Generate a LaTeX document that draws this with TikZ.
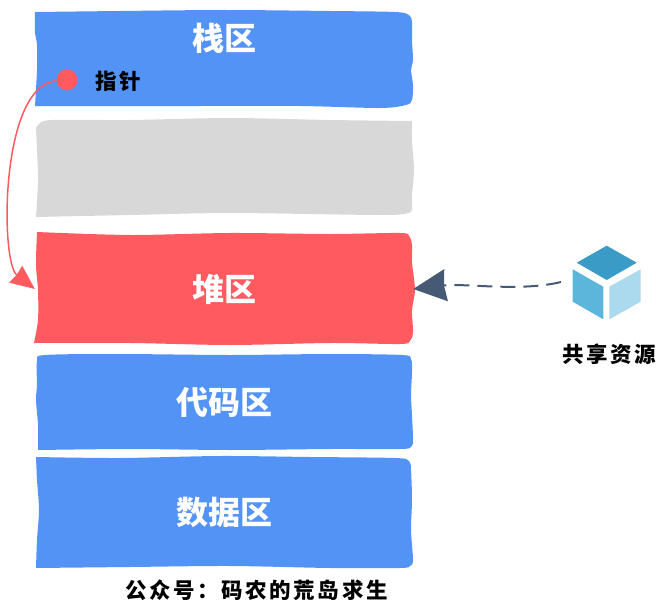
\documentclass[tikz,border=0pt]{standalone}
\usepackage{fontspec}
\newfontfamily\cjk{Noto Sans CJK SC}
\usetikzlibrary{arrows.meta}
\definecolor{segblue}{HTML}{5393F5}
\definecolor{seggray}{HTML}{D8D8D8}
\definecolor{segred}{HTML}{FF5A5F}
\definecolor{inkslate}{HTML}{475A75}
\definecolor{cubetop}{HTML}{3A9BC7}
\definecolor{cubeleft}{HTML}{5CB6DB}
\definecolor{cuberight}{HTML}{ABD9ED}
\tikzset{
  seglabel/.style={text=white,font=\cjk\bfseries\fontsize{32}{32}\selectfont,inner sep=0pt},
  smalllabel/.style={text=black,font=\cjk\bfseries\fontsize{21.5}{22}\selectfont\addfontfeature{LetterSpace=12},inner sep=0pt},
  seghot/.style={minimum width=378pt,minimum height=110pt,inner sep=0pt},
}
\begin{document}
\begin{tikzpicture}[x=1pt,y=-1pt]
  \useasboundingbox (0,0) rectangle (656,610);
  % stack
  \fill[segblue] plot[smooth,tension=0.5] coordinates {(35,12) (120,11) (225,10) (330,11) (395,12) (409,15) (412,22) (412,40) (413,60) (411,70) (413,85) (412,100) (406,105) (380,108) (300,106) (200,106) (35,106)}
    -- plot[smooth,tension=0.5] coordinates {(35,106) (37,70) (37,45) (35,32) (35,12)} -- cycle;
  % free gap
  \fill[seggray] plot[smooth,tension=0.5] coordinates {(36,128) (39,124) (52,120) (130,120) (230,118) (330,120) (412,121)}
    -- plot[smooth,tension=0.5] coordinates {(412,121) (412,140) (414,170) (412,195) (412,208) (408,213) (380,215) (230,213) (130,215) (36,217)}
    -- plot[smooth,tension=0.5] coordinates {(36,217) (38,180) (37,150) (36,128)} -- cycle;
  % heap
  \fill[segred] plot[smooth,tension=0.5] coordinates {(37,232) (130,235) (230,233) (330,234) (400,233) (409,236) (412,245) (412,262) (415,290) (412,310) (413,332) (410,341) (400,344) (330,343) (230,345) (130,343) (34,343)}
    -- plot[smooth,tension=0.5] coordinates {(34,343) (38,320) (38,290) (36,265) (37,232)} -- cycle;
  % code
  \fill[segblue] plot[smooth,tension=0.5] coordinates {(38,450) (130,449) (230,450) (330,449) (400,449) (411,447) (413,440) (412,415) (411,395) (412,372) (411,359) (402,355) (330,354) (230,355) (120,354) (45,355) (37,361) (37,385) (36,400) (38,425) (38,450)} -- cycle;
  % data
  \fill[segblue] plot[smooth,tension=0.5] coordinates {(36,568) (130,567) (230,566) (330,568) (400,568) (410,566) (413,560) (411,530) (412,500) (411,470) (409,461) (395,458) (310,457) (220,456) (120,458) (36,457)}
    -- plot[smooth,tension=0.5] coordinates {(36,457) (37,480) (39,510) (37,540) (36,568)} -- cycle;
  % cube
  \fill[cubetop] (606.7,245.7) -- (636.7,262.7) -- (606.7,280) -- (576.7,262.7) -- cycle;
  \fill[cubeleft] (572.7,269.3) -- (603.3,286.7) -- (603.3,319.3) -- (572.7,301.7) -- cycle;
  \fill[cuberight] (640.7,269.3) -- (609.3,286.7) -- (609.3,319.3) -- (640.7,301.7) -- cycle;
  \node (stack) at (224.5,38) [seglabel] {栈区};
  \node (heap) at (224,289) [seglabel,seghot] {堆区};
  \node (code) at (224.5,402) [seglabel] {代码区};
  \node (data) at (224.5,512) [seglabel] {数据区};
  \node (ptr) at (67,80) [circle,fill=segred,minimum size=21pt,inner sep=0pt] {};
  \node (ptrname) at (118.5,81) [smalllabel] {指针};
  \node (shared) at (609,354) [smalllabel] {共享资源};
  \node (account) at (256.5,590) [smalllabel] {公众号：码农的荒岛求生};
  \coordinate (cube) at (561,282);
  \draw[segred,line width=1.5pt,-{Stealth[length=24pt,width=21pt,inset=1pt]}] (ptr) .. controls (0,85) and (0,262) .. (heap.west);
  \draw[inkslate,line width=2pt,dash pattern=on 15pt off 8pt,-{Stealth[length=33pt,width=32pt,inset=2pt]}] (cube) .. controls (520,292) and (465,283) .. (heap.east);
\end{tikzpicture}
\end{document}
